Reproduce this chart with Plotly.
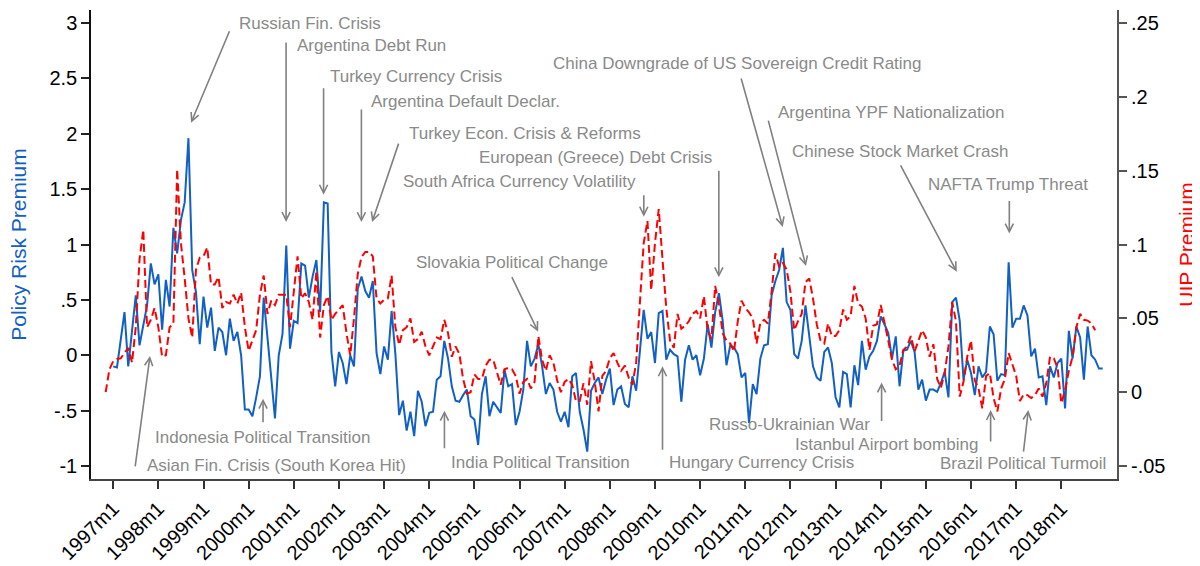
import plotly.graph_objects as go
import pandas as pd

# ---------------- data ----------------
policy_start = "1997-01"
policy_risk = [
    -0.10, -0.11, 0.14, 0.39, -0.10, 0.22, 0.54, 0.09, 0.27, 0.45, 0.83, 0.64,
    0.73, 0.23, 0.68, 0.44, 1.15, 0.92, 1.22, 1.38, 1.96, 0.77, 0.57, 0.10,
    0.53, 0.25, 0.43, 0.04, 0.25, 0.21, 0.00, 0.33, 0.13, 0.21, 0.00, -0.49,
    -0.49, -0.55, -0.38, -0.19, 0.52, 0.19, -0.20, -0.57, 0.00, 0.19, 0.99, 0.06,
    0.31, 0.29, 0.83, 0.81, 0.52, 0.71, 0.86, 0.39, 1.38, 1.37, 0.03, -0.28,
    0.03, -0.07, -0.26, 0.00, -0.10, 0.60, 0.71, 0.58, 0.52, 0.67, 0.02, -0.17,
    0.08, -0.04, 0.40, 0.01, -0.54, -0.41, -0.68, -0.51, -0.73, -0.32, -0.42, -0.64,
    -0.52, -0.51, -0.22, -0.19, 0.13, -0.03, -0.28, -0.41, -0.42, -0.36, -0.31, -0.55,
    -0.58, -0.81, -0.35, -0.19, -0.55, -0.42, -0.47, -0.52, -0.13, -0.28, -0.26, -0.63,
    -0.51, -0.31, 0.13, -0.10, -0.03, 0.10, -0.10, -0.35, -0.25, -0.31, -0.51, -0.60,
    -0.51, -0.65, -0.19, -0.16, -0.51, -0.67, -0.87, -0.32, -0.25, -0.20, -0.35, -0.22,
    -0.12, -0.45, -0.31, -0.28, -0.44, -0.47, -0.19, -0.32, 0.04, 0.41, 0.15, 0.21,
    -0.07, 0.38, 0.40, -0.04, 0.05, 0.01, -0.01, -0.42, -0.04, 0.09, -0.04, 0.00,
    -0.18, -0.03, 0.28, 0.07, 0.39, 0.56, 0.31, -0.09, 0.09, 0.07, 0.01, -0.20,
    -0.16, -0.61, -0.26, -0.35, -0.03, 0.09, 0.10, 0.54, 0.67, 0.77, 0.97, 0.48,
    0.41, 0.01, -0.03, 0.13, 0.45, 0.19, -0.10, -0.20, -0.23, 0.03, 0.07, -0.07,
    -0.38, -0.47, -0.15, -0.17, -0.47, -0.09, -0.27, 0.13, -0.13, -0.01, 0.04, 0.13,
    0.35, 0.28, 0.20, -0.03, 0.17, -0.28, 0.04, 0.05, 0.13, 0.03, -0.31, -0.22,
    -0.41, -0.31, -0.31, -0.33, -0.25, -0.15, -0.38, 0.48, 0.52, 0.31, -0.22, -0.04,
    -0.16, -0.36, -0.10, -0.20, -0.15, 0.26, 0.19, -0.23, -0.17, -0.18, 0.84, 0.25,
    0.33, 0.33, 0.45, 0.36, -0.01, 0.06, -0.20, -0.19, -0.45, -0.10, -0.20, -0.07,
    -0.03, -0.48, 0.22, -0.03, 0.26, 0.16, -0.22, 0.26, 0.00, -0.04, -0.12, -0.12,
]

uip_start = "1996-11"
uip_premium = [
    0.000, 0.0155,
    0.021, 0.0225, 0.023, 0.0265, 0.030, 0.020, 0.044, 0.090, 0.110, 0.044, 0.049, 0.057,
    0.044, 0.024, 0.025, 0.044, 0.046, 0.151, 0.101, 0.077, 0.050, 0.037, 0.083, 0.091,
    0.092, 0.098, 0.073, 0.073, 0.078, 0.057, 0.061, 0.060, 0.066, 0.060, 0.0675, 0.044,
    0.028, 0.035, 0.042, 0.066, 0.079, 0.053, 0.062, 0.059, 0.066, 0.066, 0.066, 0.044,
    0.070, 0.092, 0.0635, 0.067, 0.061, 0.049, 0.082, 0.037, 0.059, 0.065, 0.049, 0.053,
    0.056, 0.059, 0.040, 0.025, 0.050, 0.080, 0.0915, 0.095, 0.095, 0.092, 0.0635, 0.060,
    0.0625, 0.0635, 0.079, 0.044, 0.032, 0.042, 0.044, 0.050, 0.034, 0.036, 0.041, 0.031,
    0.025, 0.031, 0.037, 0.036, 0.049, 0.040, 0.024, 0.031, 0.026, 0.009, -0.001, 0.000,
    0.012, 0.009, 0.009, 0.018, 0.022, 0.022, 0.013, 0.005, 0.0155, 0.0165, 0.0155, 0.011,
    -0.001, 0.007, 0.009, 0.0025, 0.007, 0.038, 0.022, 0.0145, 0.025, 0.020, 0.008, 0.000,
    0.007, 0.009, 0.005, -0.006, -0.006, 0.006, -0.0085, 0.021, 0.007, -0.013, 0.011, 0.0145,
    0.023, 0.0265, 0.020, 0.0145, 0.018, 0.010, 0.005, 0.020, 0.061, 0.101, 0.116, 0.069,
    0.101, 0.124, 0.090, 0.057, 0.035, 0.030, 0.053, 0.043, 0.045, 0.048, 0.053, 0.055,
    0.050, 0.065, 0.042, 0.036, 0.072, 0.059, 0.040, 0.035, 0.033, 0.0275, 0.048, 0.062,
    0.057, 0.054, 0.050, 0.033, 0.047, 0.049, 0.0465, 0.068, 0.094, 0.085, 0.0875, 0.083,
    0.068, 0.042, 0.048, 0.053, 0.0745, 0.077, 0.0635, 0.046, 0.035, 0.033, 0.0465, 0.038,
    0.038, 0.042, 0.056, 0.049, 0.0515, 0.072, 0.060, 0.058, 0.050, 0.0285, 0.045, 0.046,
    0.059, 0.048, 0.035, 0.022, 0.0155, 0.018, 0.0285, 0.031, 0.038, 0.0275, 0.035, 0.042,
    0.037, 0.024, 0.0325, 0.009, 0.003, 0.013, 0.031, 0.061, 0.048, -0.003, 0.007, 0.024,
    0.035, 0.008, 0.0025, -0.011, 0.011, 0.013, -0.004, -0.013, 0.0025, 0.009, 0.0265, 0.019,
    0.011, -0.006, -0.0015, -0.002, -0.004, -0.002, 0.0025, -0.003, 0.006, 0.024, 0.023, 0.0165,
    -0.0075, 0.0015, 0.0145, 0.024, 0.044, 0.053, 0.049, 0.0485, 0.0465, 0.042,
]

tick_years = list(range(1997, 2019))
left_tickvals = [-1, -0.5, 0, 0.5, 1, 1.5, 2, 2.5, 3]
left_ticktext = ["-1", "-.5", "0", ".5", "1", "1.5", "2", "2.5", "3"]
right_tickvals = [-0.05, 0, 0.05, 0.1, 0.15, 0.2, 0.25]
right_ticktext = ["-.05", "0", ".05", ".1", ".15", ".2", ".25"]

# events: label, text anchor (month index, left-axis value), arrow head (month index, left-axis value), tail offset px
events = [
    ("Russian Fin. Crisis", 32.9, 2.994, 20.7, 2.099, 39, -93),
    ("Argentina Debt Run", 48.3, 2.801, 45.95, 1.204, 0, -181),
    ("Turkey Currency Crisis", 57.1, 2.520, 55.92, 1.450, 0, -108),
    ("Argentina Default Declar.", 68.0, 2.292, 65.97, 1.202, 0, -114),
    ("Turkey Econ. Crisis & Reforms", 78.1, 2.003, 68.81, 1.202, 27, -80),
    ("European (Greece) Debt Crisis", 96.7, 1.783, 160.97, 0.704, 0, -108),
    ("South Africa Currency Volatility", 76.5, 1.573, 141.03, 1.251, 0, -23),
    ("Slovakia Political Change", 80.0, 0.836, 112.95, 0.213, -27, -56),
    ("China Downgrade of US Sovereign Credit Rating", 116.4, 2.634, 177.96, 1.158, -42, -150),
    ("Argentina YPF Nationalization", 176.2, 2.195, 184.13, 0.805, -38, -147),
    ("Chinese Stock Market Crash", 179.9, 1.836, 224.22, 0.753, -57, -108),
    ("NAFTA Trump Threat", 216.1, 1.538, 238.18, 1.099, 0, -34),
    ("Indonesia Political Transition", 10.6, -0.743, 39.83, -0.392, 0, 25),
    ("Asian Fin. Crisis (South Korea Hit)", 8.5, -0.997, 9.78, -0.006, -15, 112),
    ("India Political Transition", 89.3, -0.971, 88.04, -0.50, 0, 39),
    ("Hungary Currency Crisis", 147.2, -0.971, 146.0, -0.10, 0, 85),
    ("Russo-Ukrainian War", 157.9, -0.629, 204.23, -0.246, 0, 40),
    ("Istanbul Airport bombing", 180.7, -0.804, 233.21, -0.495, 0, 33),
    ("Brazil Political Turmoil", 219.3, -0.980, 243.23, -0.495, -5, 43),
]

# ---------------- build ----------------
base = pd.Period("1997-01", freq="M")


def month_index(start, n):
    off = (pd.Period(start, freq="M") - base).n
    return [off + i for i in range(n)]


x_policy = month_index(policy_start, len(policy_risk))
x_uip = month_index(uip_start, len(uip_premium))
lbl_policy = [str(base + i) for i in x_policy]
lbl_uip = [str(base + i) for i in x_uip]

FONT = "Liberation Sans, Arial, Helvetica, sans-serif"
BLUE = "#1160c4"
RED = "#ff0000"
GRAY_TXT = "#8a8a8a"
GRAY_ARR = "#808080"

fig = go.Figure()
fig.add_trace(go.Scatter(
    x=x_policy, y=policy_risk, mode="lines", name="Policy Risk Premium",
    line=dict(color=BLUE, width=2), text=lbl_policy, yaxis="y",
))
fig.add_trace(go.Scatter(
    x=x_uip, y=uip_premium, mode="lines", name="UIP Premium",
    line=dict(color=RED, width=2, dash="8px,4px"), text=lbl_uip, yaxis="y2",
))

annotations = []
for label, tx, ty, hx, hy, ax, ay in events:
    annotations.append(dict(
        x=tx, y=ty, xref="x", yref="y", text=label, showarrow=False,
        xanchor="left", yanchor="middle",
        font=dict(family=FONT, size=17, color=GRAY_TXT),
    ))
    annotations.append(dict(
        x=hx, y=hy, xref="x", yref="y", text="", showarrow=True,
        ax=ax, ay=ay, arrowhead=5, arrowsize=1.0, arrowwidth=1.6,
        arrowcolor=GRAY_ARR, standoff=0,
    ))

annotations.append(dict(
    x=-0.0709, y=0.5, xref="paper", yref="paper", text="Policy Risk Premium",
    showarrow=False, textangle=-90, xanchor="center", yanchor="middle",
    font=dict(family=FONT, size=21, color=BLUE),
))
annotations.append(dict(
    x=1.0675, y=0.5, xref="paper", yref="paper", text="UIP Premium",
    showarrow=False, textangle=-90, xanchor="center", yanchor="middle",
    font=dict(family=FONT, size=21, color=RED), borderpad=0,
))

# the page adds an 8px body margin, so the figure is 8px smaller and margins shifted
fig.update_layout(
    width=1192, height=558,
    margin=dict(l=83, r=83, t=2, b=73),
    paper_bgcolor="white", plot_bgcolor="white",
    showlegend=False,
    font=dict(family=FONT, size=20, color="black"),
    xaxis=dict(
        range=[-5.9, 266.8],
        tickvals=[(y - 1997) * 12 for y in tick_years],
        ticktext=[f"{y}m1" for y in tick_years],
        tickangle=-45, ticks="outside", ticklen=8, tickwidth=1.5, tickcolor="#333",
        showline=True, linecolor="#444", linewidth=2, showgrid=False, zeroline=False,
        tickfont=dict(family=FONT, size=20, color="black"),
    ),
    yaxis=dict(
        range=[-1.117, 3.117],
        tickvals=left_tickvals, ticktext=left_ticktext,
        ticks="outside", ticklen=8, tickwidth=1.5, tickcolor="#222",
        showline=True, linecolor="#111", linewidth=1.5, showgrid=False, zeroline=False,
        tickfont=dict(family=FONT, size=20, color="black"),
    ),
    yaxis2=dict(
        range=[-0.05878, 0.25878], overlaying="y", side="right",
        tickvals=right_tickvals, ticktext=right_ticktext,
        ticks="outside", ticklen=8, tickwidth=1.5, tickcolor="#555",
        showline=True, linecolor="#555", linewidth=2, showgrid=False, zeroline=False,
        tickfont=dict(family=FONT, size=20, color="black"),
    ),
    annotations=annotations,
)

fig.write_html("out.html")
